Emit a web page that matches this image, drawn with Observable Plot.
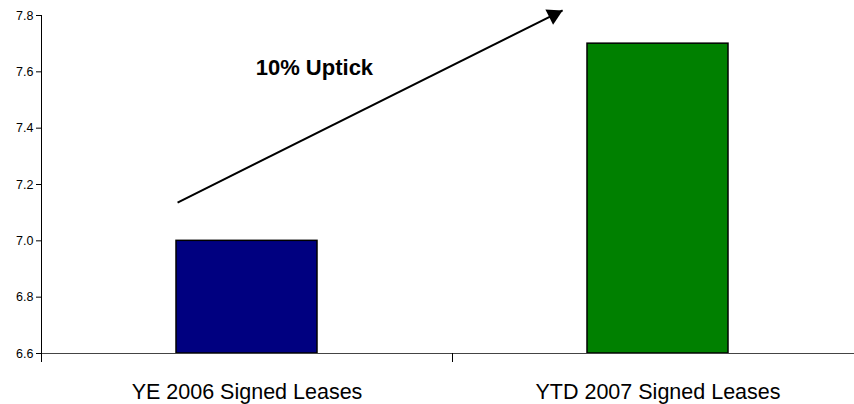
<!DOCTYPE html>
<html>
<head>
<meta charset="utf-8">
<script src="https://cdn.jsdelivr.net/npm/d3@7"></script>
<script src="https://cdn.jsdelivr.net/npm/@observablehq/plot@0.6"></script>
<style>
  html, body { margin: 0; padding: 0; background: #fff; }
  #chart svg { display: block; }
</style>
</head>
<body>
<div id="chart"></div>
<script>
// Signed leases, year-end 2006 vs. year-to-date 2007
const categories = ["YE 2006 Signed Leases", "YTD 2007 Signed Leases"];
const values = [7.0, 7.7];
const barColors = ["#000080", "#008000"];
const yTicks = [6.6, 6.8, 7.0, 7.2, 7.4, 7.6, 7.8];

// Trend arrow endpoints (category position, value)
const arrowStart = [0.331, 7.136];
const arrowEnd = [1.268, 7.818];
const uptickLabelAt = [0.664, 7.587];

const uptick = Math.round((values[1] / values[0] - 1) * 100);
const uptickText = `${uptick}% Uptick`;

const bars = categories.map((name, i) => ({name, i, value: values[i], color: barColors[i]}));

// Arrowhead direction in screen space, used to orient the triangle
const xs = d3.scaleLinear([0, 2], [41, 863]);
const ys = d3.scaleLinear([6.6, 7.8], [353, 15]);
const adx = xs(arrowEnd[0]) - xs(arrowStart[0]);
const ady = ys(arrowEnd[1]) - ys(arrowStart[1]);
const alen = Math.hypot(adx, ady);
const angle = Math.atan2(adx, -ady) * 180 / Math.PI;
const back = 10;

const chart = Plot.plot({
  width: 854,
  height: 404,
  marginLeft: 41,
  marginRight: -9,
  marginTop: 15,
  marginBottom: 51,
  style: {fontFamily: "'Liberation Sans', Arial, sans-serif", color: "#000", background: "#fff"},
  x: {domain: [0, 2], range: [41, 863], axis: null},
  y: {domain: [6.6, 7.8], axis: null},
  marks: [
    Plot.rectY(bars, {
      x1: d => d.i, x2: d => d.i + 1, y1: 6.6, y2: "value",
      fill: d => d.color, stroke: "#000", strokeWidth: 1.5,
      insetLeft: 135, insetRight: 135
    }),
    Plot.ruleY([6.6], {stroke: "#444", strokeWidth: 1.2}),
    Plot.ruleX([0], {y1: 6.6, y2: 7.8, stroke: "#000", strokeWidth: 1}),
    Plot.axisY({
      ticks: yTicks, tickFormat: d3.format(".1f"), tickSize: 5, tickPadding: 3,
      fontSize: 12.5, anchor: "left", label: null
    }),
    Plot.axisX({ticks: [0, 1, 2], tickSize: 9, tickFormat: () => "", anchor: "bottom", label: null}),
    Plot.text(bars, {
      x: d => d.i + 0.5, y: 6.6, text: "name", lineAnchor: "bottom", dy: 45,
      fontSize: 21.5, fill: "#000"
    }),
    Plot.link([0], {
      x1: () => arrowStart[0], y1: () => arrowStart[1],
      x2: () => arrowEnd[0], y2: () => arrowEnd[1],
      stroke: "#000", strokeWidth: 2
    }),
    Plot.dot([0], {
      x: () => arrowEnd[0], y: () => arrowEnd[1],
      symbol: "triangle", r: 6.4, fill: "#000", stroke: "none",
      rotate: angle, dx: -back * adx / alen, dy: -back * ady / alen
    }),
    Plot.text([uptickText], {
      x: () => uptickLabelAt[0], y: () => uptickLabelAt[1], text: d => d,
      lineAnchor: "bottom", fontSize: 22, fontWeight: "bold", fill: "#000"
    })
  ]
});

document.getElementById("chart").append(chart);
</script>
</body>
</html>
